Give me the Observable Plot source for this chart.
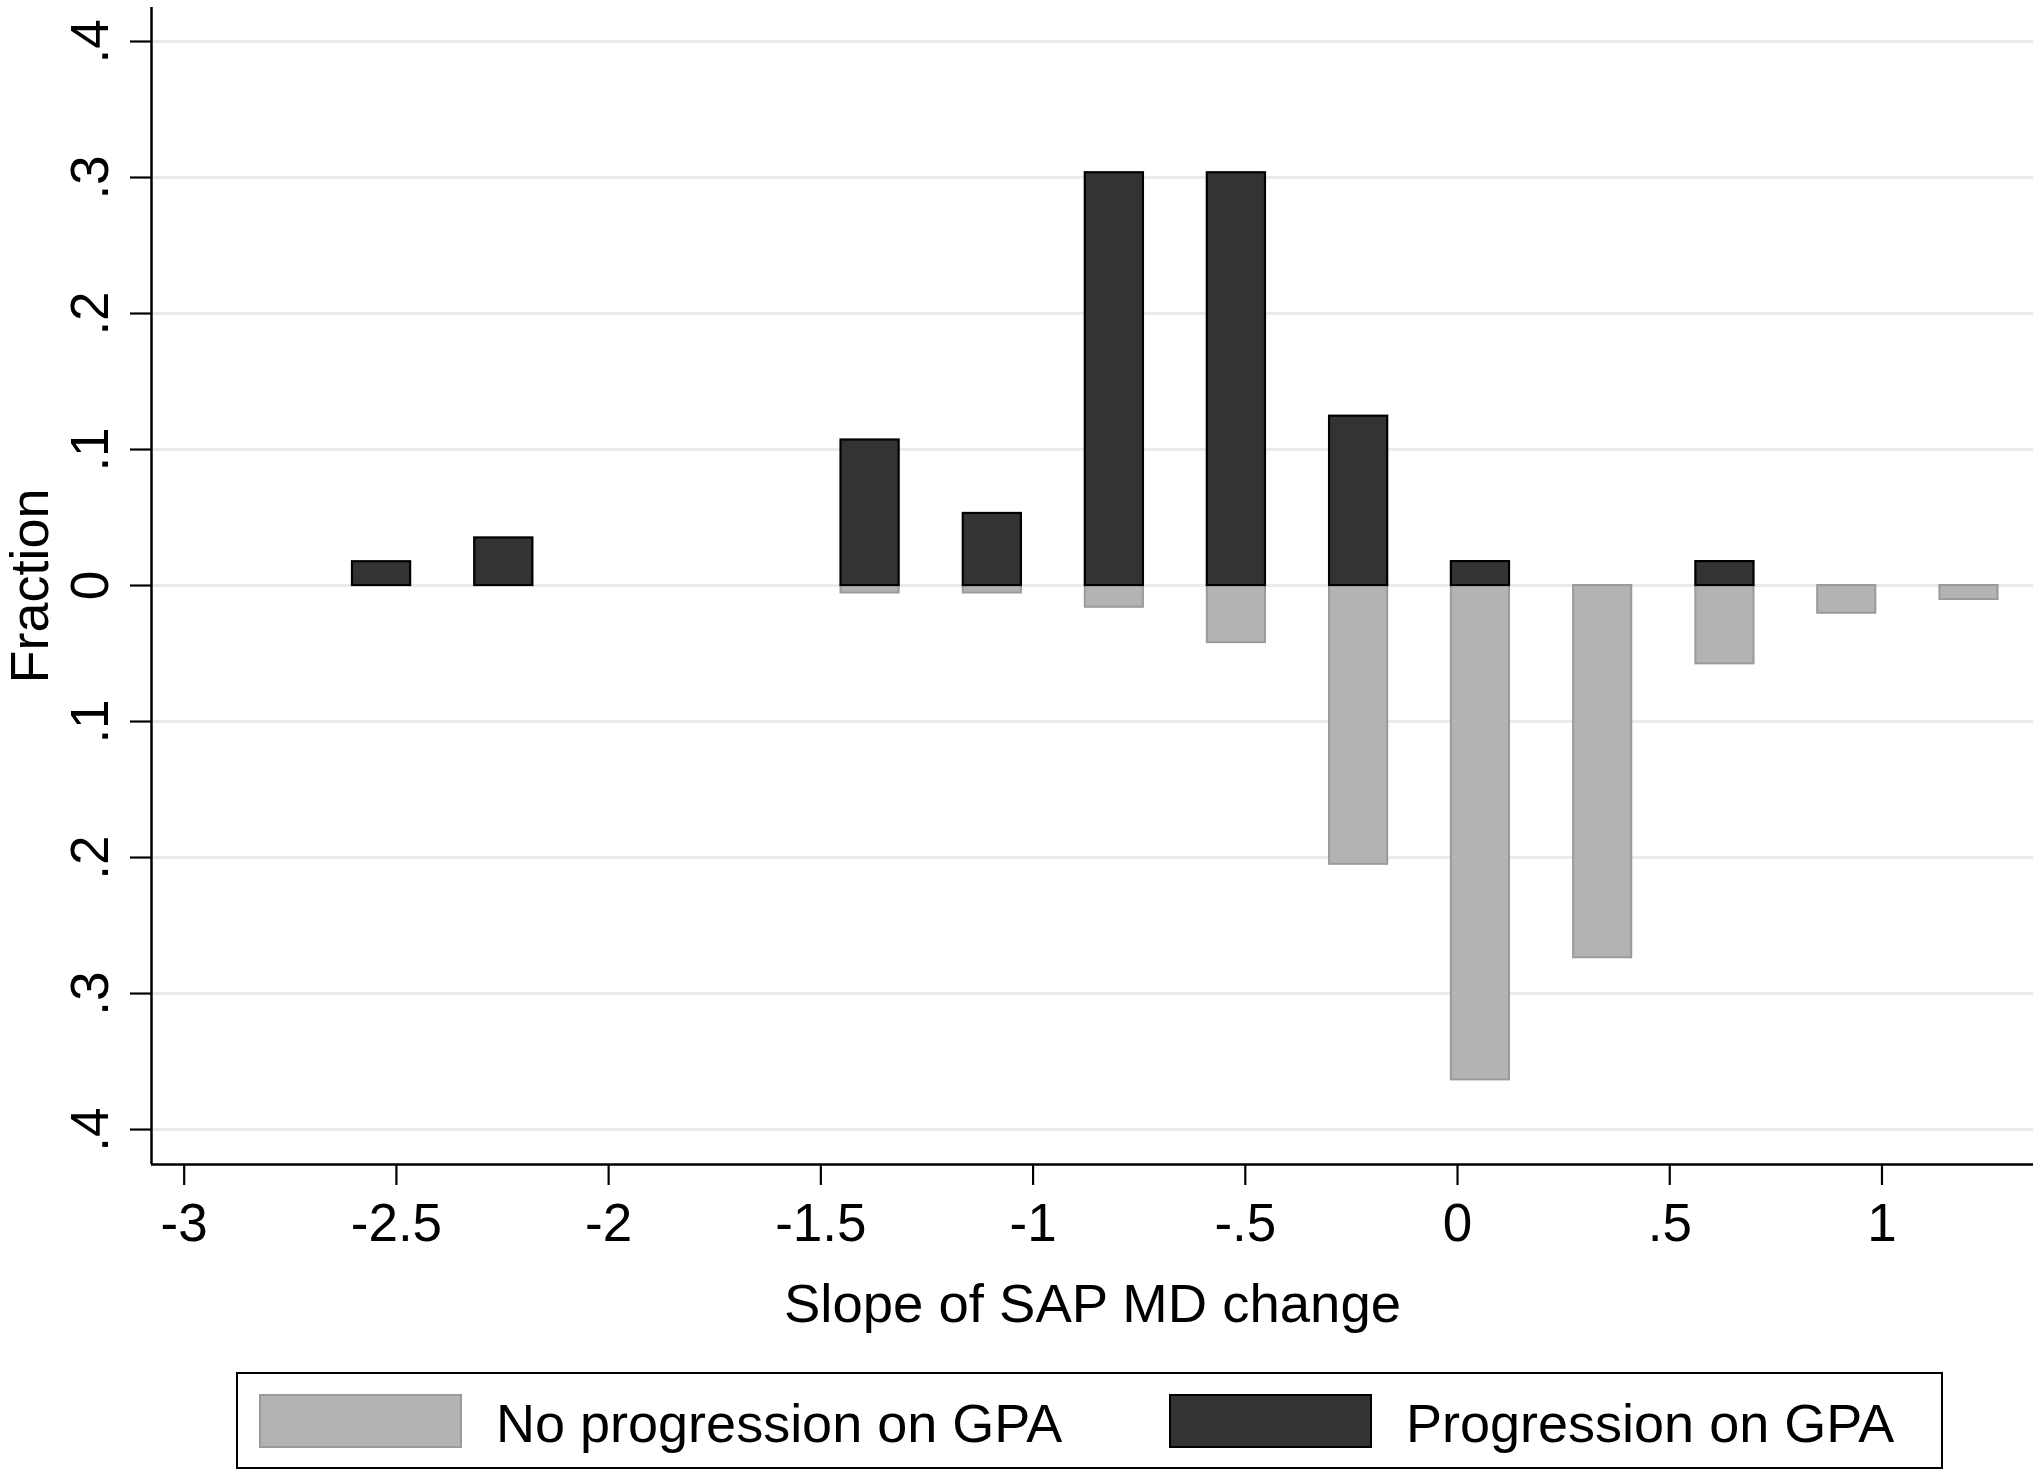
<!DOCTYPE html>
<html><head><meta charset="utf-8">
<script src="https://cdn.jsdelivr.net/npm/d3@7"></script>
<script src="https://cdn.jsdelivr.net/npm/@observablehq/plot@0.6"></script>
<style>
body{margin:0;background:#fff;}
#wrap{position:relative;width:2040px;height:1479px;background:#fff;font-family:"Liberation Sans",Arial,Helvetica,sans-serif;overflow:hidden;}
#chart svg{display:block}
.box{position:absolute;box-sizing:border-box;}
.lab{position:absolute;font-size:54px;line-height:54px;white-space:nowrap;color:#000;}
</style></head>
<body><div id="wrap"><div id="chart"></div></div>
<script>
// ---- data ----
const binCenters    = [-2.535, -2.247, -1.96, -1.672, -1.384, -1.096, -0.8085, -0.521, -0.233, 0.054, 0.342, 0.63, 0.917, 1.205];
const progression   = [0.0175, 0.035, 0, 0, 0.107, 0.053, 0.3035, 0.3035, 0.1245, 0.0176, 0, 0.0176, 0, 0];
const noProgression = [0, 0, 0, 0, 0.0055, 0.0055, 0.016, 0.042, 0.205, 0.3635, 0.2737, 0.0576, 0.0204, 0.0103];
const xTicks = [-3, -2.5, -2, -1.5, -1, -0.5, 0, 0.5, 1];
const yTicks = [-0.4, -0.3, -0.2, -0.1, 0, 0.1, 0.2, 0.3, 0.4];
const seriesNames = ["No progression on GPA", "Progression on GPA"];
const xTitle = "Slope of SAP MD change";
const yTitle = "Fraction";

// ---- styling / layout ----
const fill = ["#b3b3b3", "#333333"];
const strokeC = ["#9a9a9a", "#000000"];
const xDomain = [-3.077, 1.357];
const yDomain = [-0.4257, 0.425];
const barWidth = 0.137;
const FONT = '"Liberation Sans", Arial, Helvetica, sans-serif';

const rows = [];
binCenters.forEach((c, i) => {
  if (noProgression[i] > 0) rows.push({x: c, v: -noProgression[i], s: 0});
  if (progression[i] > 0) rows.push({x: c, v: progression[i], s: 1});
});
const rowsNo = rows.filter(d => d.s === 0);
const rowsYes = rows.filter(d => d.s === 1);

const xFmt = d => d === 0 ? "0" : String(d).replace(/^(-?)0\./, "$1.");
const yFmt = d => d === 0 ? "0" : Math.abs(d).toFixed(1).replace(/^0/, "");

const chart = Plot.plot({
  width: 2040, height: 1345,
  marginLeft: 151, marginRight: 7, marginTop: 7, marginBottom: 181,
  x: {domain: xDomain, label: null},
  y: {domain: yDomain, label: null},
  style: {fontFamily: FONT, fontSize: "53px", background: "white", color: "black"},
  marks: [
    Plot.gridY(yTicks, {stroke: "#ebebeb", strokeWidth: 3, strokeOpacity: 1}),
    Plot.rect(rowsNo, {x1: d => d.x - barWidth / 2, x2: d => d.x + barWidth / 2, y1: 0, y2: "v",
      fill: fill[0], stroke: strokeC[0], strokeWidth: 2}),
    Plot.rect(rowsYes, {x1: d => d.x - barWidth / 2, x2: d => d.x + barWidth / 2, y1: 0, y2: "v",
      fill: fill[1], stroke: strokeC[1], strokeWidth: 2.2}),
    Plot.ruleX([xDomain[0]], {stroke: "black", strokeWidth: 2.5}),
    Plot.ruleY([yDomain[0]], {stroke: "black", strokeWidth: 2.5}),
    Plot.axisX(xTicks, {tickSize: 21, tickPadding: 18, tickFormat: xFmt, fontSize: 53, strokeWidth: 2.2, label: null}),
    Plot.axisY(yTicks, {tickSize: 21, tickPadding: 23, tickRotate: -90, textAnchor: "middle", lineAnchor: "bottom",
      tickFormat: yFmt, fontSize: 53, strokeWidth: 2.2, label: null}),
    Plot.text([xTitle], {text: d => d, frameAnchor: "bottom", dy: 119, lineAnchor: "top", fontSize: 54.5}),
    Plot.text([yTitle], {text: d => d, frameAnchor: "left", dx: -104, rotate: -90, lineAnchor: "bottom",
      textAnchor: "middle", fontSize: 54})
  ]
});
document.getElementById("chart").appendChild(chart);

// ---- legend (HTML, below the SVG) ----
const wrap = document.getElementById("wrap");
function el(cls, css, text) {
  const d = document.createElement("div");
  d.className = cls;
  Object.assign(d.style, css);
  if (text) d.textContent = text;
  wrap.appendChild(d);
  return d;
}
el("box", {left: "236px", top: "1372px", width: "1707px", height: "97px", border: "2.7px solid #000"});
const items = [
  {sw: 259, lab: 496},
  {sw: 1169, lab: 1406}
];
items.forEach((it, i) => {
  el("box", {left: it.sw + "px", top: "1394px", width: "203px", height: "54px",
    background: fill[i], border: (i ? "2.5px" : "2px") + " solid " + strokeC[i]});
  el("lab", {left: it.lab + "px", top: "1396px"}, seriesNames[i]);
});
</script>
</body></html>
